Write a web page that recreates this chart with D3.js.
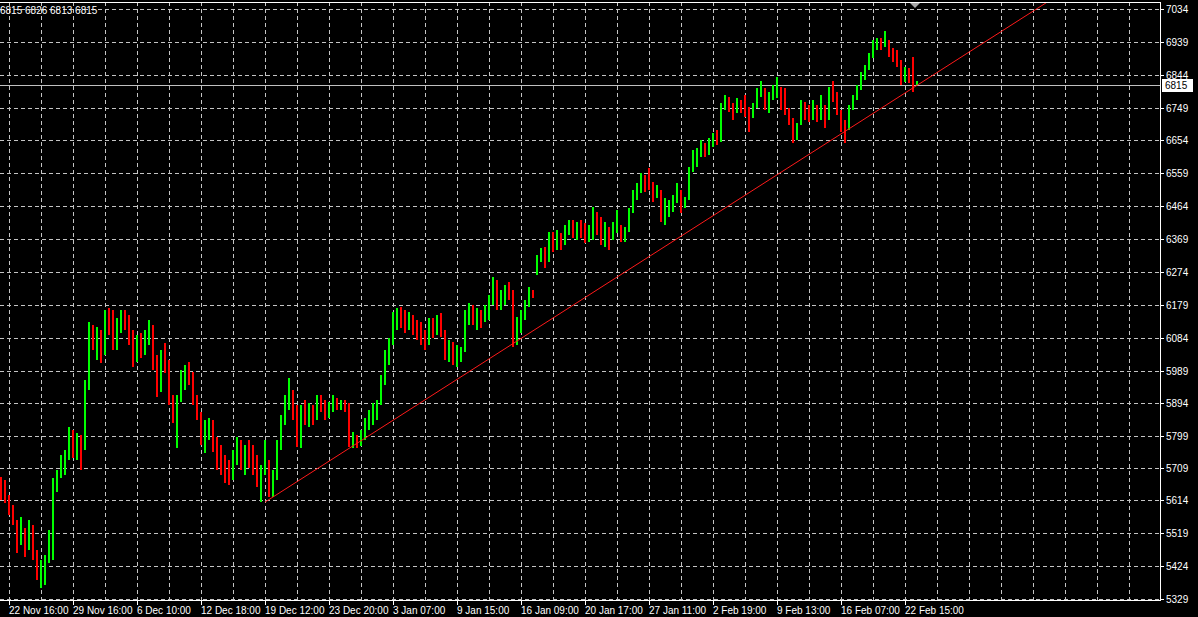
<!DOCTYPE html>
<html><head><meta charset="utf-8">
<script src="https://cdn.jsdelivr.net/npm/d3@7"></script>
<style>html,body{margin:0;padding:0;background:#000;overflow:hidden}</style>
</head><body><svg id="c" width="1198" height="617"></svg>
<script>
// ---- data (bars) ----
const highs = [
5681,5673,5629,5601,5557,5566,5534,5557,5543,5471,5442,5456,5528,5679,5702,5745,5760,5826,5817,5809,
5803,5962,6129,6121,6115,6106,6164,6170,6164,6141,6164,6164,6150,6106,6092,6098,6106,6135,6121,6034,
6049,6069,6020,5918,5918,5991,6005,6014,5985,5918,5869,5846,5852,5846,5797,5774,5745,5731,5760,5797,
5788,5774,5788,5774,5745,5716,5788,5731,5702,5788,5861,5918,5968,5933,5890,5890,5904,5895,5890,5918,
5918,5904,5898,5918,5910,5904,5904,5895,5812,5803,5817,5852,5875,5895,5904,5976,6049,6083,6158,6170,
6173,6164,6158,6150,6135,6129,6106,6141,6141,6150,6155,6106,6077,6072,6063,6057,6164,6184,6179,6170,
6164,6179,6207,6259,6251,6222,6236,6245,6222,6144,6164,6193,6231,6222,6323,6343,6346,6390,6390,6395,
6387,6410,6424,6424,6418,6424,6416,6410,6462,6447,6433,6418,6404,6418,6453,6410,6404,6459,6511,6531,
6560,6554,6574,6534,6525,6511,6488,6482,6496,6531,6511,6491,6577,6627,6632,6655,6647,6661,6676,6684,
6762,6785,6780,6762,6777,6771,6785,6751,6762,6806,6826,6806,6794,6814,6837,6809,6806,6748,6719,6705,
6771,6765,6757,6771,6757,6785,6757,6809,6826,6794,6742,6713,6757,6785,6814,6852,6872,6907,6944,6950,
6950,6970,6944,6921,6916,6887,6866,6863,6895,6826];
const lows = [
5615,5606,5572,5543,5462,5485,5450,5471,5442,5384,5361,5369,5433,5442,5638,5679,5687,5731,5736,5731,
5702,5760,5933,6049,6020,6011,6034,6092,6049,6049,6098,6106,6063,5999,6014,6025,6034,6063,5991,5913,
5927,5982,5890,5838,5765,5898,5933,5947,5890,5846,5774,5751,5788,5754,5702,5687,5664,5658,5673,5716,
5702,5687,5707,5687,5653,5609,5687,5624,5624,5673,5760,5832,5875,5846,5768,5765,5832,5826,5832,5846,
5869,5846,5852,5869,5875,5875,5869,5768,5765,5765,5771,5788,5817,5832,5846,5890,5947,6005,6063,6106,
6112,6098,6106,6092,6077,6063,6049,6063,6083,6092,6086,6020,6014,6005,5999,6014,6043,6121,6121,6106,
6112,6129,6135,6179,6164,6164,6179,6193,6057,6063,6098,6135,6173,6199,6265,6303,6285,6303,6332,6338,
6338,6352,6381,6372,6366,6372,6358,6361,6366,6381,6352,6346,6338,6366,6387,6361,6361,6390,6444,6482,
6502,6505,6511,6476,6488,6418,6410,6433,6447,6473,6444,6459,6482,6563,6577,6606,6606,6612,6635,6641,
6650,6742,6736,6713,6733,6733,6722,6679,6719,6748,6780,6742,6733,6771,6777,6742,6728,6699,6647,6655,
6699,6713,6707,6713,6707,6713,6690,6713,6765,6728,6679,6647,6684,6742,6771,6800,6829,6858,6892,6916,
6916,6924,6895,6881,6866,6814,6823,6820,6794,6813];
const closes = [
5644,5615,5586,5557,5528,5551,5471,5543,5456,5398,5413,5442,5456,5658,5687,5716,5745,5788,5760,5788,
5774,5947,6106,6063,6092,6034,6150,6106,6063,6092,6141,6121,6077,6020,6077,6063,6077,6106,6005,5933,
6034,6005,5904,5890,5904,5976,5991,5976,5904,5861,5788,5823,5832,5774,5731,5716,5702,5679,5736,5774,
5731,5760,5745,5716,5673,5702,5702,5644,5687,5774,5846,5904,5918,5861,5788,5869,5861,5875,5846,5890,
5881,5861,5875,5904,5890,5895,5887,5788,5788,5783,5803,5840,5852,5875,5890,5962,6034,6072,6141,6150,
6135,6121,6135,6112,6106,6077,6063,6121,6106,6129,6092,6034,6063,6020,6034,6049,6150,6164,6135,6150,
6121,6164,6193,6236,6193,6207,6222,6207,6077,6121,6150,6179,6216,6207,6314,6314,6309,6372,6366,6381,
6352,6395,6401,6390,6410,6395,6372,6395,6447,6401,6366,6395,6352,6410,6439,6372,6390,6447,6496,6517,
6540,6534,6525,6496,6505,6439,6453,6468,6482,6511,6468,6482,6569,6598,6621,6632,6627,6641,6661,6655,
6748,6771,6757,6728,6757,6748,6736,6713,6748,6794,6800,6757,6771,6800,6814,6757,6742,6713,6670,6690,
6757,6736,6719,6748,6736,6771,6707,6794,6785,6742,6690,6684,6748,6777,6806,6843,6863,6892,6930,6936,
6930,6939,6910,6901,6881,6829,6858,6835,6815,6815];
const firstOpen = 5660;

const priceTicks = [7034,6939,6844,6749,6654,6559,6464,6369,6274,6179,6084,5989,5894,5799,5709,5614,5519,5424,5329];
const timeLabels = ["22 Nov 16:00","29 Nov 16:00","6 Dec 10:00","12 Dec 18:00","19 Dec 12:00","23 Dec 20:00",
  "3 Jan 07:00","9 Jan 15:00","16 Jan 09:00","20 Jan 17:00","27 Jan 11:00","2 Feb 19:00","9 Feb 13:00",
  "16 Feb 07:00","22 Feb 15:00"];
const timeLabelBars = [2,18,34,50,66,82,98,114,130,146,162,178,194,210,226];
const trendStart = [66, 5609];
const trendEnd = [228, 6806];
const bidPrice = 6815;

// ---- drawing ----
const svg = d3.select("#c");
const W = 1198, H = 617;
const L = 0, R = 1160, T = 2, B = 600;
const FONT = "'Liberation Sans', Arial, sans-serif";
const FS = "10px";
const GRID = "#c4c4c4";

svg.append("rect").attr("width", W).attr("height", H).attr("fill", "#000");

const x = d3.scaleLinear().domain([0, 290]).range([1, 1161]);
const y = d3.scaleLinear().domain([5329, 7034]).range([599, 9]);
const px = v => Math.round(v) + 0.5;

// grid
const g = svg.append("g").attr("shape-rendering", "crispEdges");
g.selectAll(".hg").data(priceTicks).enter().append("line")
  .attr("x1", L).attr("x2", R).attr("y1", d => px(y(d))).attr("y2", d => px(y(d)))
  .attr("stroke", GRID).attr("stroke-dasharray", "4,3");
const gridBars = d3.range(2, 290, 8).filter(i => x(i) < R);
g.selectAll(".vg").data(gridBars).enter().append("line")
  .attr("x1", d => px(x(d))).attr("x2", d => px(x(d))).attr("y1", T).attr("y2", B)
  .attr("stroke", GRID).attr("stroke-dasharray", "4,3");

// bid line
svg.append("line").attr("x1", L).attr("x2", R)
  .attr("y1", px(y(bidPrice))).attr("y2", px(y(bidPrice)))
  .attr("stroke", "#c0c0c0").attr("shape-rendering", "crispEdges");

// bars
const opens = closes.map((c, i) => i ? closes[i - 1] : firstOpen);
svg.append("g").attr("shape-rendering", "crispEdges").selectAll("rect")
  .data(highs.map((h, i) => ({i, h, l: lows[i], o: opens[i], c: closes[i]})))
  .enter().append("rect")
  .attr("x", d => Math.round(x(d.i)) - 1)
  .attr("width", 2)
  .attr("y", d => Math.round(y(d.h)))
  .attr("height", d => Math.max(1, Math.round(y(d.l)) - Math.round(y(d.h))))
  .attr("fill", d => d.c >= d.o ? "#00ff00" : "#ff0000");

// trend line (ray), clipped to plot
svg.append("clipPath").attr("id", "pc").append("rect")
  .attr("x", L).attr("y", T + 0.5).attr("width", R - L).attr("height", B - T);
const slope = (trendEnd[1] - trendStart[1]) / (trendEnd[0] - trendStart[0]);
const farI = 320;
svg.append("line").attr("clip-path", "url(#pc)")
  .attr("x1", x(trendStart[0])).attr("y1", y(trendStart[1]))
  .attr("x2", x(farI)).attr("y2", y(trendStart[1] + slope * (farI - trendStart[0])))
  .attr("stroke", "#ff1a1a").attr("stroke-width", 1);

// frame
const fr = svg.append("g").attr("stroke", "#fff").attr("shape-rendering", "crispEdges");
fr.append("line").attr("x1", L).attr("x2", R + 0.5).attr("y1", T + 0.5).attr("y2", T + 0.5);
fr.append("line").attr("x1", R + 0.5).attr("x2", R + 0.5).attr("y1", T).attr("y2", B + 1);
fr.append("line").attr("x1", L).attr("x2", R + 0.5).attr("y1", B + 0.5).attr("y2", B + 0.5);

// shift marker
const mx = Math.round(x(228.5));
svg.append("path").attr("d", `M${mx - 5},${T + 1}L${mx + 5},${T + 1}L${mx},${T + 6}Z`).attr("fill", "#a8a8a8");

// price axis
const ya = svg.append("g");
ya.selectAll("line").data(priceTicks).enter().append("line")
  .attr("x1", R).attr("x2", R + 4).attr("y1", d => px(y(d))).attr("y2", d => px(y(d)))
  .attr("stroke", "#fff").attr("shape-rendering", "crispEdges");
ya.selectAll("text").data(priceTicks).enter().append("text")
  .attr("x", 1166).attr("y", d => Math.round(y(d)) + 4)
  .attr("fill", "#fff").attr("font-family", FONT).attr("font-size", FS).text(d => d);

// bid label
const by = Math.round(y(bidPrice));
svg.append("rect").attr("x", 1162).attr("y", by - 6).attr("width", 31).attr("height", 13).attr("fill", "#fff");
svg.append("text").attr("x", 1165).attr("y", by + 4).attr("fill", "#000")
  .attr("font-family", FONT).attr("font-size", FS).text(bidPrice);

// time axis
const xa = svg.append("g");
xa.selectAll("line").data(timeLabelBars).enter().append("line")
  .attr("x1", d => px(x(d))).attr("x2", d => px(x(d))).attr("y1", B).attr("y2", B + 5)
  .attr("stroke", "#fff").attr("shape-rendering", "crispEdges");
xa.selectAll("text").data(timeLabels).enter().append("text")
  .attr("x", (d, i) => Math.round(x(timeLabelBars[i])))
  .attr("y", 614).attr("fill", "#fff").attr("font-family", FONT).attr("font-size", FS).text(d => d);

// OHLC header of last bar
const n = closes.length - 1;
svg.append("text").attr("x", 0).attr("y", 14).attr("fill", "#fff")
  .attr("font-family", FONT).attr("font-size", FS)
  .text([opens[n], highs[n], lows[n], closes[n]].join(" "));
</script></body></html>
